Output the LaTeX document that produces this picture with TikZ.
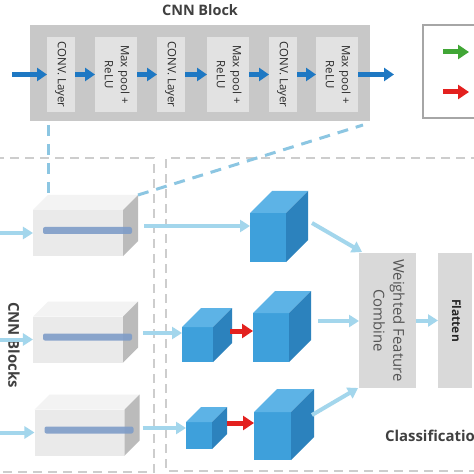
\documentclass[tikz,border=0pt]{standalone}
\usepackage{fontspec}
\usepackage{graphicx}
\setmainfont{Open Sans}
\usetikzlibrary{arrows.meta,calc}
\definecolor{cblue}{HTML}{1E78C3}
\definecolor{lblue}{HTML}{A3D6EC}
\definecolor{dblue}{HTML}{8CC6E2}
\definecolor{gframe}{HTML}{CDCDCD}
\definecolor{blockbg}{HTML}{C8C8C8}
\definecolor{inbox}{HTML}{E2E2E2}
\definecolor{cfront}{HTML}{3EA0DB}
\definecolor{ctop}{HTML}{5DB3E6}
\definecolor{cside}{HTML}{2C82BD}
\definecolor{gfront}{HTML}{EAEAEA}
\definecolor{gtop}{HTML}{F3F3F3}
\definecolor{gside}{HTML}{BBBBBB}
\definecolor{barc}{HTML}{7F9DC8}
\definecolor{wbox}{HTML}{D9D9D9}
\definecolor{txt}{HTML}{404040}
\definecolor{ltxt}{HTML}{2A2A2A}
\definecolor{wtxt}{HTML}{555555}
\definecolor{garrow}{HTML}{41A636}
\definecolor{rarrow}{HTML}{E3211F}
\definecolor{legbd}{HTML}{A6A6A6}
\newcommand\vtxt[1]{\rotatebox{-90}{\begin{tabular}{@{}c@{}}#1\end{tabular}}}
\newcommand\graybox[3]{%
  \node[fill=gfront, minimum width=90bp, minimum height=46bp] (#1) at (#2,#3) {};
  \fill[gtop] (#1.north west) -- ++(15,-15) -- ([shift={(15,-15)}]#1.north east) -- (#1.north east) -- cycle;
  \fill[gside] (#1.north east) -- ([shift={(15,-15)}]#1.north east) -- ([shift={(15,-15)}]#1.south east) -- (#1.south east) -- cycle;
  \fill[barc, opacity=0.9, rounded corners=2bp] ([shift={(10,17)}]#1.north west) rectangle ++(89,7);}
\newcommand\bluecube[6]{%
  \node[fill=cfront, minimum width=#4bp, minimum height=#5bp] (#1) at (#2,#3) {};
  \fill[ctop] (#1.north west) -- ++(#6,-#6) -- ([shift={(#6,-#6)}]#1.north east) -- (#1.north east) -- cycle;
  \fill[cside] (#1.north east) -- ([shift={(#6,-#6)}]#1.north east) -- ([shift={(#6,-#6)}]#1.south east) -- (#1.south east) -- cycle;}
\begin{document}
\begin{tikzpicture}[x=1bp,y=-1bp,
  every node/.style={inner sep=0pt, outer sep=0pt},
  layerbox/.style={fill=inbox, minimum height=75bp, font=\fontsize{11.5}{16}\selectfont, text=ltxt},
  barrow/.style={draw=cblue, line width=5bp, -{Triangle[length=10bp,width=13bp]}},
  larrow/.style={draw=lblue, line width=4bp, -{Triangle[length=10bp,width=12bp]}},
  rarr/.style={draw=rarrow, line width=5bp, -{Triangle[length=11bp,width=14bp]}},
  garr/.style={draw=garrow, line width=5bp, -{Triangle[length=11bp,width=14bp]}},
  bdash/.style={draw=dblue, line width=3bp, dash pattern=on 11bp off 8bp},
  frameline/.style={draw=gframe, line width=2.5bp, dash pattern=on 9bp off 6bp},
  bigtxt/.style={font=\bfseries\fontsize{15}{18}\selectfont, text=txt}]
\path[use as bounding box, clip] (0,0) rectangle (474,474);
\fill[white] (0,0) rectangle (474,474);
% frames
\draw[frameline] (-5,158) -- (154,158) -- (154,472) -- (-5,472);
\draw[frameline] (480,158) -- (166,158) -- (166,471) -- (480,471);
% CNN block
\node[bigtxt, font=\bfseries\fontsize{14.5}{16}\selectfont] (title) at (200,10.5) {CNN Block};
\node[fill=blockbg, minimum width=340bp, minimum height=96bp] (blk) at (200,73) {};
\node[layerbox, minimum width=28bp] (c1) at (61,74.5) {\vtxt{CONV. Layer}};
\node[layerbox, minimum width=42bp] (m1) at (116,74.5) {\vtxt{Max pool +\\ReLU}};
\node[layerbox, minimum width=28bp] (c2) at (171,74.5) {\vtxt{CONV. Layer}};
\node[layerbox, minimum width=42bp] (m2) at (228,74.5) {\vtxt{Max pool +\\ReLU}};
\node[layerbox, minimum width=28bp] (c3) at (283,74.5) {\vtxt{CONV. Layer}};
\node[layerbox, minimum width=42bp] (m3) at (337,74.5) {\vtxt{Max pool +\\ReLU}};
\coordinate (bin) at (12,74.5);
\coordinate (bout) at (394,74.5);
\draw[barrow] (bin) -- (c1);
\draw[barrow] (c1) -- (m1);
\draw[barrow] (m1) -- (c2);
\draw[barrow] (c2) -- (m2);
\draw[barrow] (m2) -- (c3);
\draw[barrow] (c3) -- (m3);
\draw[barrow] (m3) -- (bout);
% legend
\node[draw=legbd, line width=2bp, fill=white, minimum width=62bp, minimum height=93bp] (leg) at (454,71.5) {};
\coordinate (g1) at (443,52); \coordinate (g2) at (469,52);
\coordinate (q1) at (443,92); \coordinate (q2) at (469,92);
\draw[garr] (g1) -- (g2);
\draw[rarr] (q1) -- (q2);
% gray CNN blocks
\graybox{box1}{78}{233}
\graybox{box2}{78}{339.5}
\graybox{box3}{79.5}{432.5}
\node[bigtxt] (cnnb) at (14,345) {\rotatebox{-90}{CNN Blocks}};
% projection lines
\coordinate (b1tl) at ([shift={(15,-15)}]box1.north west);
\coordinate (b1tr) at ([shift={(15,-15)}]box1.north east);
\coordinate (p1) at ($(b1tl |- blk.south)+(0,4)$);
\coordinate (p2) at ($(blk.south east)+(-7,4)$);
\draw[bdash] (p1) -- (b1tl);
\draw[bdash] (b1tr) -- (p2);
% inputs
\coordinate (i1) at (-5,233);
\coordinate (i2) at (-5,339.5);
\coordinate (i3) at (-5,432.5);
\draw[larrow] (i1) -- (box1);
\draw[larrow] (i2) -- (box2);
\draw[larrow] (i3) -- (box3);
% cubes
\bluecube{cube1}{268}{237.5}{36}{49}{22}
\bluecube{cube2a}{197.5}{344.5}{31}{35}{19}
\bluecube{cube2b}{271}{337.5}{36}{49}{22}
\bluecube{cube3a}{199}{435.5}{26}{27}{15}
\bluecube{cube3b}{272.5}{436}{37}{48}{23}
% classification boxes
\node[fill=wbox, minimum width=57bp, minimum height=135bp, font=\fontsize{15}{20}\selectfont, text=wtxt] (wfc) at (387.5,320.5) {\vtxt{Weighted Feature\\Combine}};
\node[fill=wbox, minimum width=34bp, minimum height=135bp, font=\bfseries\fontsize{12}{14}\selectfont, text=black!85] (flat) at (455,320.5) {\vtxt{Flatten}};
\node[bigtxt, anchor=west] (cls) at (385,436) {Classification};
% connectors
\coordinate (s1) at ([shift={(21,-7)}]box1.east);
\coordinate (s2) at ([shift={(20,-6.5)}]box2.east);
\coordinate (s3) at ([shift={(18,-4.5)}]box3.east);
\draw[larrow] (s1) -- (s1 -| cube1.west);
\draw[larrow] (s2) -- (s2 -| cube2a.west);
\draw[larrow] (s3) -- (s3 -| cube3a.west);
\coordinate (r2) at ([shift={(17,-13.5)}]cube2a.east);
\coordinate (r3) at ([shift={(15,-12.5)}]cube3a.east);
\draw[rarr] (r2) -- (r2 -| cube2b.west);
\draw[rarr] (r3) -- (r3 -| cube3b.west);
\coordinate (o1) at ([shift={(26,-14.5)}]cube1.east);
\coordinate (o2) at ([shift={(29,-16.5)}]cube2b.east);
\coordinate (o3) at ([shift={(21,-21)}]cube3b.east);
\draw[larrow] (o1) -- ([shift={(3,-1)}]wfc.north west);
\draw[larrow] (o2) -- (o2 -| wfc.west);
\draw[larrow] (o3) -- ([shift={(-1,0)}]wfc.south west);
\draw[larrow] (wfc) -- (flat);
\end{tikzpicture}
\end{document}
